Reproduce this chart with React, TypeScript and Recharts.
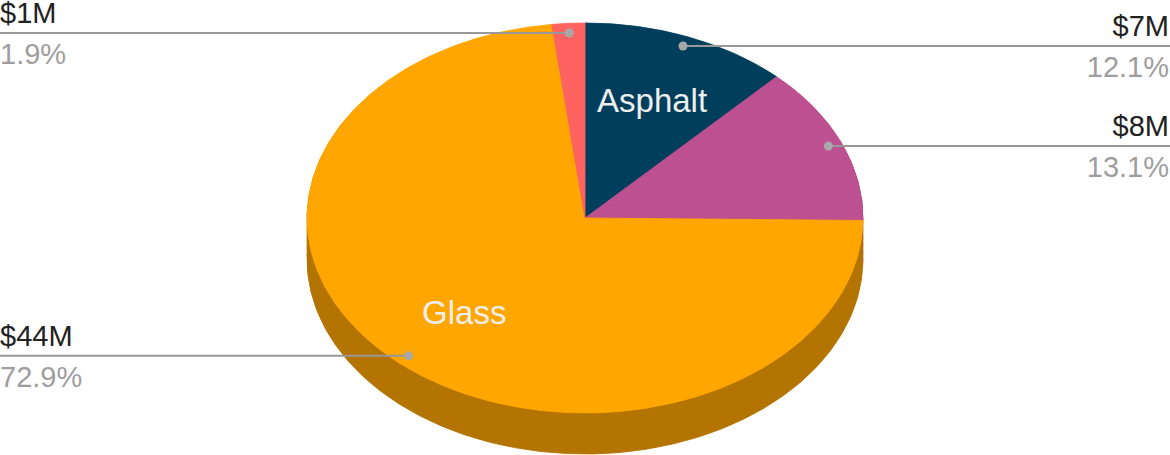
import React from "react";
import { PieChart, Pie, Cell } from "recharts";

// ---- data ----
const categories = ["Asphalt", "Concrete", "Glass", "Steel"];
const valuesMillions = [7.31, 7.91, 44.03, 1.15];
const insideLabels = ["Asphalt", "", "Glass", ""];
const topColors = ["#003f5c", "#bc5090", "#ffa600", "#ff6361"];
const sideColors = ["#002c40", "#843865", "#b37400", "#b34544"];

// ---- layout ----
const W = 1170;
const H = 455;
const CX = 585;
const CY = 218;
const RX = 278;
const RY = 195;
const K = RY / RX;
const DEPTH = 41;
const FONT = "Arial, 'Liberation Sans', sans-serif";

const data = categories.map((name, i) => ({
  name,
  value: valuesMillions[i],
  inside: insideLabels[i],
}));

const depthSteps: number[] = [];
for (let d = DEPTH; d > 0; d -= 8) depthSteps.push(d);

const RAD = Math.PI / 180;

const renderLabel = (props: any) => {
  const { cx, cy, midAngle, outerRadius, percent, value, payload, index } = props;
  const c = Math.cos(midAngle * RAD);
  const s = Math.sin(midAngle * RAD);
  const dx = cx + 0.95 * outerRadius * c;
  const dy = cy - 0.95 * outerRadius * K * s;
  const right = c > 0;
  const inside = payload && payload.inside ? payload.inside : insideLabels[index];
  const ix = cx + 0.65 * outerRadius * c;
  const iy = cy - 0.65 * outerRadius * K * s;
  return (
    <g key={`lbl-${index}`}>
      {inside ? (
        <text
          x={ix}
          y={iy + 0.36 * 33}
          textAnchor="middle"
          fontSize={33}
          fontFamily={FONT}
          fill="#eeeeee"
        >
          {inside}
        </text>
      ) : null}
      <line
        x1={right ? dx : 0}
        x2={right ? W : dx}
        y1={dy}
        y2={dy}
        stroke="#999999"
        strokeWidth={2}
      />
      <circle cx={dx} cy={dy} r={4.5} fill="#a8a8a8" />
      <text
        x={right ? W - 1 : 0}
        y={dy - 10}
        textAnchor={right ? "end" : "start"}
        fontSize={29}
        fontFamily={FONT}
        fill="#222222"
      >
        {`$${Math.round(value)}M`}
      </text>
      <text
        x={right ? W - 1 : 0}
        y={dy + 31}
        textAnchor={right ? "end" : "start"}
        fontSize={29}
        fontFamily={FONT}
        fill="#9e9e9e"
      >
        {`${(percent * 100).toFixed(1)}%`}
      </text>
    </g>
  );
};

export default function App() {
  return (
    <div
      className="pie3d"
      style={{ position: "absolute", left: 0, top: 0, width: W, height: H, background: "#fff" }}
    >
      <style>{`
        .pie3d .recharts-sector {
          transform-box: view-box;
          transform-origin: ${CX}px ${CY}px;
          transform: scale(1, ${K});
        }
      `}</style>
      <PieChart width={W} height={H} margin={{ top: 0, right: 0, bottom: 0, left: 0 }}>
        {depthSteps.map((d) => (
          <Pie
            key={`side-${d}`}
            data={data}
            dataKey="value"
            nameKey="name"
            cx={CX}
            cy={CY + d / K}
            outerRadius={RX}
            startAngle={90}
            endAngle={-270}
            isAnimationActive={false}
            label={false}
            labelLine={false}
          >
            {data.map((_, i) => (
              <Cell key={i} fill={sideColors[i]} stroke={sideColors[i]} strokeWidth={1} />
            ))}
          </Pie>
        ))}
        <Pie
          data={data}
          dataKey="value"
          nameKey="name"
          cx={CX}
          cy={CY}
          outerRadius={RX}
          startAngle={90}
          endAngle={-270}
          isAnimationActive={false}
          label={renderLabel}
          labelLine={false}
        >
          {data.map((_, i) => (
            <Cell key={i} fill={topColors[i]} stroke={topColors[i]} strokeWidth={1} />
          ))}
        </Pie>
      </PieChart>
    </div>
  );
}
